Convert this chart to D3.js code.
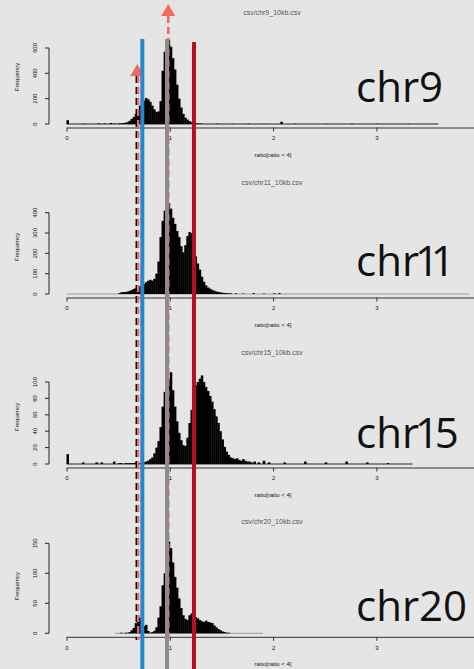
<!DOCTYPE html>
<html>
<head>
<meta charset="utf-8">
<title>ratio histograms</title>
<style>
  body { margin: 0; background: #e5e5e5; }
  svg { display: block; }
  .small { font-family: "Liberation Sans", Arial, sans-serif; }
  .big { font-family: "Open Sans", sans-serif; }
</style>
</head>
<body>
<div id="chart"></div>
<script src="https://cdnjs.cloudflare.com/ajax/libs/d3/7.8.5/d3.min.js"></script>
<script>
// histogram bins: first bin starts at binStart, every bin is binWidth wide
var binStart = 0.50, binWidth = 0.02;

var chromosomes = ["chr9", "chr11", "chr15", "chr20"];
var fileNames = ["csv/chr9_10kb.csv", "csv/chr11_10kb.csv", "csv/chr15_10kb.csv", "csv/chr20_10kb.csv"];

var chr9Counts = [5, 5, 8, 10, 15, 25, 40, 55, 80, 110, 145, 165, 185, 205, 195, 175, 145, 115, 95, 100,
                  180, 420, 570, 640, 665, 610, 520, 430, 310, 200, 130, 80, 50, 35, 22, 15, 10, 6, 4, 3, 2];
var chr11Counts = [4, 8, 10, 10, 12, 15, 20, 25, 28, 32, 38, 45, 50, 58, 65, 70, 66, 75, 100, 160,
                   280, 360, 410, 440, 448, 420, 375, 345, 310, 280, 235, 205, 240, 285, 305, 300, 240, 185, 150, 120,
                   85, 60, 42, 32, 26, 20, 16, 12, 10, 8, 6, 5, 4, 3, 3];
var chr15Counts = [1, 1, 0, 1, 1, 1, 1, 1, 2, 1, 1, 1, 2, 3, 4, 6, 8, 13, 20, 28,
                   45, 70, 88, 98, 104, 112, 90, 70, 52, 38, 29, 23, 22, 32, 50, 66, 84, 96, 100, 104,
                   108, 100, 94, 89, 83, 76, 67, 58, 50, 40, 30, 21, 15, 11, 8, 7, 6, 7, 5, 4, 6, 4, 3, 3, 2];
var chr20Counts = [0, 1, 0, 1, 1, 2, 5, 9, 17, 30, 26, 18, 12, 14, 4, 1, 2, 4, 10, 26,
                   45, 80, 100, 115, 153, 142, 118, 94, 76, 58, 42, 30, 24, 22, 30, 33, 32, 27, 25, 22,
                   20, 19, 21, 19, 18, 17, 13, 10, 7, 5, 3, 2, 1, 1, 0];

// sparse bins outside the main block: [bin start, count]
var chr9Extra = [[0.00, 30], [0.16, 3], [0.30, 5], [0.36, 4], [0.42, 8], [0.46, 3],
                 [1.45, 3], [1.60, 2], [1.75, 3], [1.90, 2], [2.07, 18], [2.20, 3], [2.50, 2], [2.75, 3], [3.00, 2], [3.30, 2]];
var chr11Extra = [[1.63, 3], [1.70, 2], [1.80, 4], [1.90, 2], [2.00, 3], [2.05, 4]];
var chr15Extra = [[0.00, 12], [0.15, 2], [0.28, 2], [0.33, 2], [0.45, 3],
                  [1.81, 3], [1.85, 2], [1.90, 4], [1.95, 2], [2.10, 2], [2.30, 3], [2.50, 2], [2.70, 3], [2.90, 2], [3.10, 1]];
var chr20Extra = [];

// min / max of each ratio column (extent of the zero-height bins)
var dataRanges = [[0, 3.6], [0, 3.9], [0, 3.35], [0.47, 1.9]];

var yTicks = [[0, 200, 400, 600], [0, 100, 200, 300, 400], [0, 20, 40, 60, 80, 100], [0, 50, 100, 150]];
var xTicks = [0, 1, 2, 3];
var xDomain = [0, 4];

// reference lines (ratio values)
var solidLines = [0.734, 0.973, 1.234];
var dashedLines = [0.685, 0.985];

var allCounts = [chr9Counts, chr11Counts, chr15Counts, chr20Counts];
var allExtra = [chr9Extra, chr11Extra, chr15Extra, chr20Extra];

// layout (pixels)
var width = 474, height = 669;
var axisX = 49;
var panels = [
  {y0: 124, yTop: 48, big: 101.5},
  {y0: 294, yTop: 212.7, big: 276},
  {y0: 464, yTop: 382, big: 448},
  {y0: 633.3, yTop: 543.3, big: 620.5}
];
var solidStyle = [
  {color: "#2487cf", top: 39},
  {color: "#8c8c8c", top: 39},
  {color: "#b3121c", top: 42}
];
var salmon = "#f26a5a";
var dashedStyle = [
  {black: true, top: 76, tri: 64},
  {black: false, top: 16, tri: 4}
];
var lineBottom = 640;
var bigSize = 42;

var x = d3.scaleLinear().domain(xDomain).range([66.5, 479.7]);

var svg = d3.select("#chart").append("svg")
    .attr("width", width)
    .attr("height", height);

svg.append("rect").attr("width", width).attr("height", height).attr("fill", "#e5e5e5");

// the label font has a narrow "1"; measure and tighten when the installed font uses tabular digits
var probe = svg.append("text").attr("class", "big").attr("font-size", bigSize);
var w1 = probe.text("1").node().getComputedTextLength();
var w0 = probe.text("0").node().getComputedTextLength();
probe.remove();
var oneTrim = Math.max(0, (w1 - 0.655 * w0) / 2);

panels.forEach(function(p, k) {
  var y = d3.scaleLinear().domain([0, yTicks[k][yTicks[k].length - 1]]).range([p.y0, p.yTop]);
  var g = svg.append("g");

  // title
  g.append("text").attr("class", "small")
    .attr("x", 272).attr("y", p.y0 - 109.5)
    .attr("text-anchor", "middle")
    .attr("font-size", 7).attr("fill", "#555")
    .text(fileNames[k]);

  // zero-height bins show as a line
  g.append("line")
    .attr("x1", x(dataRanges[k][0])).attr("x2", x(dataRanges[k][1]))
    .attr("y1", p.y0).attr("y2", p.y0)
    .attr("stroke", k == 0 || k == 2 ? "#222" : "#999").attr("stroke-width", 1);

  var bins = allCounts[k].map(function(c, i) { return [binStart + i * binWidth, c]; })
    .concat(allExtra[k]);

  g.selectAll("rect.bar").data(bins.filter(function(d) { return d[1] > 0; }))
    .enter().append("rect")
    .attr("class", "bar")
    .attr("x", function(d) { return x(d[0]); })
    .attr("width", function(d) { return x(d[0] + binWidth) - x(d[0]) + 0.4; })
    .attr("y", function(d) { return y(d[1]); })
    .attr("height", function(d) { return p.y0 - y(d[1]); })
    .attr("fill", "#000");

  // y axis
  var ya = g.append("g").attr("class", "small");
  ya.append("line").attr("x1", axisX).attr("x2", axisX)
    .attr("y1", y(0)).attr("y2", y(yTicks[k][yTicks[k].length - 1]))
    .attr("stroke", "#222");
  yTicks[k].forEach(function(t) {
    ya.append("line").attr("x1", axisX - 4).attr("x2", axisX)
      .attr("y1", y(t)).attr("y2", y(t)).attr("stroke", "#222");
    ya.append("text")
      .attr("transform", "translate(37," + y(t) + ") rotate(-90)")
      .attr("text-anchor", "middle")
      .attr("font-size", 6).attr("fill", "#111")
      .text(t);
  });
  ya.append("text")
    .attr("transform", "translate(19," + (p.y0 - 47) + ") rotate(-90)")
    .attr("text-anchor", "middle")
    .attr("font-size", 6).attr("fill", "#111")
    .text("Frequency");

  // x axis (line runs to 4, labels only to 3)
  var xa = g.append("g").attr("transform", "translate(0," + (p.y0 + 3.5) + ")")
    .call(d3.axisBottom(x).tickValues(xTicks).tickSize(4).tickSizeOuter(0).tickFormat(d3.format("d")));
  xa.select(".domain").attr("stroke", "#333");
  xa.selectAll(".tick line").attr("stroke", "#333");
  xa.selectAll("text").attr("font-family", "Liberation Sans, Arial, sans-serif")
    .attr("font-size", 6).attr("fill", "#111").attr("dy", "0.3em").attr("y", 11);

  g.append("text").attr("class", "small")
    .attr("x", 273).attr("y", p.y0 + 33)
    .attr("text-anchor", "middle")
    .attr("font-size", 6).attr("fill", "#111")
    .text("ratio[ratio < 4]");

  // big chromosome label
  var big = g.append("text").attr("class", "big")
    .attr("x", 356).attr("y", p.big)
    .attr("font-size", bigSize).attr("fill", "#111");
  var chars = chromosomes[k].split("");
  chars.forEach(function(ch, i) {
    var dx = 0;
    if (ch == "1") dx -= oneTrim;
    if (i > 0 && chars[i - 1] == "1") dx -= oneTrim;
    big.append("tspan").attr("dx", dx).text(ch);
  });
});

// dashed reference lines with triangles
var tri = d3.symbol().type(d3.symbolTriangle).size(85);
dashedLines.forEach(function(v, i) {
  var s = dashedStyle[i];
  var px = x(v);
  if (s.black) {
    svg.append("line").attr("x1", px + 0.8).attr("x2", px + 0.8)
      .attr("y1", s.top).attr("y2", lineBottom)
      .attr("stroke", salmon).attr("stroke-width", 2.5).attr("stroke-dasharray", "7,4");
    svg.append("line").attr("x1", px - 1).attr("x2", px - 1)
      .attr("y1", s.top).attr("y2", lineBottom)
      .attr("stroke", "#000").attr("stroke-width", 1.4).attr("stroke-dasharray", "7,4");
  } else {
    svg.append("line").attr("x1", px).attr("x2", px)
      .attr("y1", s.top).attr("y2", lineBottom)
      .attr("stroke", salmon).attr("stroke-width", 2.6).attr("stroke-dasharray", "7,4");
  }
  svg.append("path").attr("d", tri)
    .attr("transform", "translate(" + px + "," + (s.tri + 8) + ")")
    .attr("fill", salmon);
});

// solid reference lines
solidLines.forEach(function(v, i) {
  svg.append("line")
    .attr("x1", x(v)).attr("x2", x(v))
    .attr("y1", solidStyle[i].top).attr("y2", height)
    .attr("stroke", solidStyle[i].color).attr("stroke-width", 4);
});
</script>
</body>
</html>
